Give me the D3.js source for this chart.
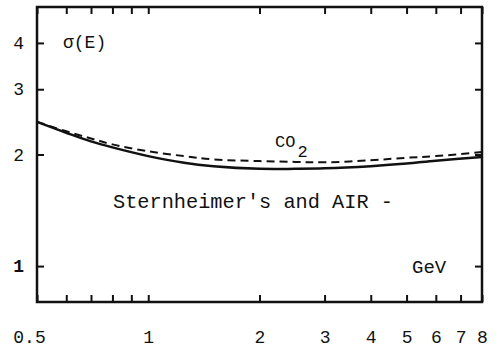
<!DOCTYPE html>
<html>
<head>
    <meta charset="utf-8">
    <script src="https://cdn.jsdelivr.net/npm/d3@7"></script>
    <style>
        * { margin: 0; padding: 0; }
        body { background: #fff; }
        svg text { font-family: "Liberation Mono", "DejaVu Sans Mono", monospace; fill: #111; }
    </style>
</head>
<body>
    <svg id="chart" width="500" height="352"></svg>
    <script>
        // energy in GeV
        var energy = [0.5, 0.6, 0.7, 0.8, 1, 1.25, 1.5, 2, 2.5, 3, 4, 5, 6, 8];
        // sigma(E), Sternheimer's and AIR (solid)
        var sigmaAir = [2.45, 2.29, 2.17, 2.09, 1.98, 1.90, 1.86, 1.83, 1.83, 1.835, 1.86, 1.89, 1.925, 1.97];
        // sigma(E), CO2 (dashed)
        var sigmaCO2 = [2.45, 2.31, 2.21, 2.13, 2.04, 1.98, 1.94, 1.92, 1.91, 1.905, 1.93, 1.96, 1.98, 2.03];

        var xTicks = [0.5, 0.6, 0.7, 0.8, 0.9, 1, 2, 3, 4, 5, 6, 7, 8];
        var xLabels = [0.5, 1, 2, 3, 4, 5, 6, 7, 8];
        var yTicks = [1, 2, 3, 4];

        var margin = { top: 7, right: 18, bottom: 50, left: 37 },
            width = 500 - margin.left - margin.right,
            height = 352 - margin.top - margin.bottom;

        var svg = d3.select("#chart")
            .append("g")
            .attr("transform", "translate(" + margin.left + "," + margin.top + ")");

        var x = d3.scaleLog().domain([0.5, 8]).range([0, width]);
        var y = d3.scaleLog().domain([0.8, 5]).range([height, 0]);

        function fmtX(d) {
            if (xLabels.indexOf(d) < 0) return "";
            return d == 0.5 ? "0.5" : String(d);
        }

        var bottom = svg.append("g")
            .attr("transform", "translate(0," + height + ")")
            .call(d3.axisBottom(x).tickValues(xTicks).tickFormat(fmtX).tickSizeInner(-7).tickSizeOuter(0).tickPadding(28));
        bottom.selectAll("text")
            .style("font-size", "18px")
            .attr("dx", function (d) { return d == 0.5 ? -8 : 0; });

        svg.append("g")
            .call(d3.axisTop(x).tickValues(xTicks).tickFormat("").tickSizeInner(-7).tickSizeOuter(0));

        var left = svg.append("g")
            .call(d3.axisLeft(y).tickValues(yTicks).tickFormat(d3.format("d")).tickSizeInner(-7).tickSizeOuter(0).tickPadding(13));
        left.selectAll("text")
            .style("font-size", "18px")
            .style("font-weight", function (d) { return d == 1 ? "bold" : "normal"; });

        svg.append("g")
            .attr("transform", "translate(" + width + ",0)")
            .call(d3.axisRight(y).tickValues(yTicks).tickFormat("").tickSizeInner(-7).tickSizeOuter(0));

        svg.selectAll(".domain").remove();
        svg.selectAll(".tick line").attr("stroke", "#111").attr("stroke-width", 2);

        // frame
        svg.append("rect")
            .attr("x", 0).attr("y", 0)
            .attr("width", width).attr("height", height)
            .attr("fill", "none")
            .attr("stroke", "#111")
            .attr("stroke-width", 2.5);

        var line = d3.line()
            .x(function (d) { return x(d[0]); })
            .y(function (d) { return y(d[1]); })
            .curve(d3.curveCatmullRom);

        svg.append("path")
            .datum(d3.zip(energy, sigmaCO2))
            .attr("d", line)
            .attr("fill", "none")
            .attr("stroke", "#111")
            .attr("stroke-width", 2)
            .attr("stroke-dasharray", "8,5");

        svg.append("path")
            .datum(d3.zip(energy, sigmaAir))
            .attr("d", line)
            .attr("fill", "none")
            .attr("stroke", "#111")
            .attr("stroke-width", 2.5);

        // labels
        svg.append("text")
            .attr("x", 26).attr("y", 41)
            .style("font-size", "18px")
            .text("σ(E)");

        var co2 = svg.append("text")
            .attr("x", 238).attr("y", 140)
            .style("font-size", "17px")
            .text("CO");
        co2.append("tspan")
            .attr("dy", 10)
            .attr("dx", 2)
            .text("2");

        svg.append("text")
            .attr("x", 76).attr("y", 201)
            .style("font-size", "20.3px")
            .text("Sternheimer's and AIR -");

        svg.append("text")
            .attr("x", 375).attr("y", 266)
            .style("font-size", "19px")
            .text("GeV");
    </script>
</body>
</html>
